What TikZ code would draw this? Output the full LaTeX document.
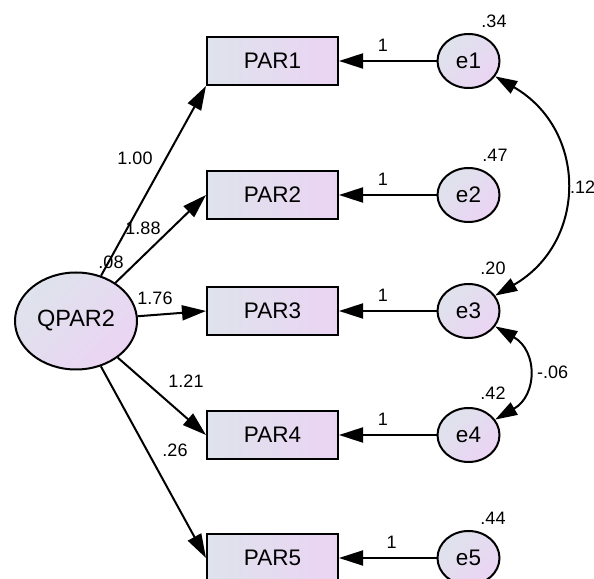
\documentclass[tikz,border=0pt]{standalone}
\usepackage{fontspec}
\setmainfont{Liberation Sans}
\usetikzlibrary{shapes.geometric,arrows.meta,positioning}
\definecolor{fillA}{HTML}{DEE3EC}
\definecolor{fillB}{HTML}{EBD4F3}

\begin{document}
\begin{tikzpicture}[x=1pt, y=1pt, node distance={196pt},
  latent/.style = {draw, ellipse, line width=2pt, top color=fillA, bottom color=fillB, shading angle=45, minimum width=122pt, minimum height=97pt, inner sep=0pt, font=\fontsize{23.5}{27}\selectfont},
  obs/.style = {draw, rectangle, line width=2pt, left color=fillA, right color=fillB, minimum width=131pt, minimum height=48pt, inner sep=0pt, font=\fontsize{22.5}{26}\selectfont},
  err/.style = {draw, ellipse, line width=2pt, top color=fillA, bottom color=fillB, shading angle=45, minimum width=62pt, minimum height=54pt, inner sep=0pt, font=\fontsize{22.5}{26}\selectfont},
  num/.style = {inner sep=2pt, font=\fontsize{18}{21}\selectfont},
  path/.style = {line width=2pt, -{Triangle[length=24pt,width=15pt]}},
  cov/.style = {line width=2pt, {Triangle[length=22pt,width=14pt]}-{Triangle[length=22pt,width=14pt]}}]
  \useasboundingbox (0,0) rectangle (594,578);
  \node[latent] (q) at (76,257) {QPAR2};
  \node[obs] (p1) at (272.5,517) {PAR1};
  \node[obs] (p2) at (272.5,383) {PAR2};
  \node[obs] (p3) at (272.5,267) {PAR3};
  \node[obs] (p4) at (272.5,143) {PAR4};
  \node[obs] (p5) at (272.5,20) {PAR5};
  \node[err] (e1) [right of=p1] {e1};
  \node[err] (e2) [right of=p2] {e2};
  \node[err] (e3) [right of=p3] {e3};
  \node[err] (e4) [right of=p4] {e4};
  \node[err] (e5) [right of=p5] {e5};
  % loadings
  \draw[path] (q) -- (p1.south west);
  \draw[path] (q) -- (p2.west);
  \draw[path] (q) -- (p3.west);
  \draw[path] (q) -- (p4.west);
  \draw[path] (q) -- (p5.west);
  \node[num] (b1) at (135,420) {1.00};
  \node[num] (b2) at (143,350) {1.88};
  \node[num] (vq) at (111,316) {.08};
  \node[num] (b3) at (155,280) {1.76};
  \node[num] (b4) at (186,197) {1.21};
  \node[num] (b5) at (175,128) {.26};
  % error terms
  \draw[path] (e1) -- node[num, above=6pt, pos=0.55] (w1) {1} (p1);
  \draw[path] (e2) -- node[num, above=6pt, pos=0.55] (w2) {1} (p2);
  \draw[path] (e3) -- node[num, above=6pt, pos=0.55] (w3) {1} (p3);
  \draw[path] (e4) -- node[num, above=6pt, pos=0.55] (w4) {1} (p4);
  \draw[path] (e5) -- node[num, above=6pt, pos=0.46] (w5) {1} (p5);
  \node[num] (v1) at (494,557) {.34};
  \node[num] (v2) at (495,423) {.47};
  \node[num] (v3) at (493,310) {.20};
  \node[num] (v4) at (493,185) {.42};
  \node[num] (v5) at (493,60) {.44};
  % covariances
  \draw[cov] (e1) to[out=-30, in=30, looseness=1.25] (e3);
  \draw[cov] (e3) to[out=-30, in=30, looseness=1.35] (e4);
  \node[num, anchor=west] (c1) at (568,391) {.12};
  \node[num, anchor=west] (c2) at (535,206) {-.06};
\end{tikzpicture}
\end{document}
